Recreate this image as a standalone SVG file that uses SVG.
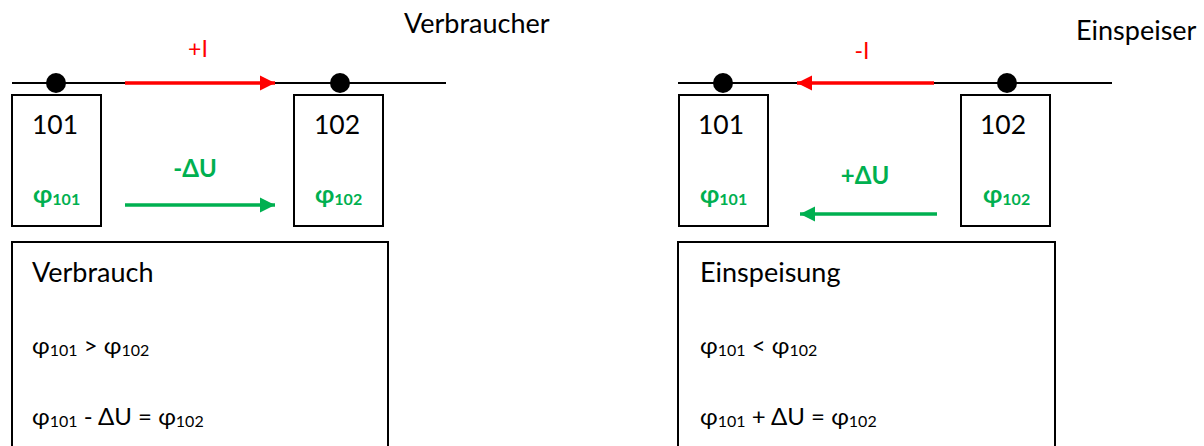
<svg xmlns="http://www.w3.org/2000/svg" width="1204" height="446" viewBox="0 0 1204 446">
<style>
text{font-family:Lato,"Noto Sans","DejaVu Sans",sans-serif;fill:#000}
.bus{stroke:#000;stroke-width:2;fill:none}
.dot{fill:#000}
.box{fill:#fff;stroke:#000;stroke-width:2}
.num{font-size:26.5px;text-anchor:middle}
.phi{font-size:25px;font-weight:bold;fill:#00B050}
.sub{font-size:16px}
.lbl{font-size:27px}
.eq{font-size:24px}
.red{stroke:#FF0000;stroke-width:3.5;fill:none}
.grn{stroke:#00B050;stroke-width:3.5;fill:none}
.rt{fill:#FF0000;font-size:23px;text-anchor:middle}
.gt{fill:#00B050;font-size:24px;font-weight:bold;text-anchor:middle}
</style>
<defs>
<marker id="ahR" markerUnits="userSpaceOnUse" markerWidth="16" markerHeight="16" viewBox="0 0 16 16" refX="15" refY="8" orient="auto"><path d="M0,0.5 L15,8 L0,15.5 Z" fill="#FF0000"/></marker>
<marker id="ahG" markerUnits="userSpaceOnUse" markerWidth="16" markerHeight="16" viewBox="0 0 16 16" refX="15" refY="8" orient="auto"><path d="M0,0.5 L15,8 L0,15.5 Z" fill="#00B050"/></marker>
</defs>

<g id="connectors">
<line class="bus" x1="12" y1="83" x2="446" y2="83"/>
<line class="bus" x1="678" y1="83" x2="1112" y2="83"/>
<line class="red" x1="125" y1="83" x2="275" y2="83" marker-end="url(#ahR)"/>
<line class="grn" x1="125" y1="205" x2="275" y2="205" marker-end="url(#ahG)"/>
<line class="red" x1="934" y1="83" x2="797" y2="83" marker-end="url(#ahR)"/>
<line class="grn" x1="937" y1="214" x2="800" y2="214" marker-end="url(#ahG)"/>
</g>

<g id="labels">
<text class="lbl" x="404" y="33">Verbraucher</text>
<text class="lbl" x="1076" y="40">Einspeiser</text>
<text class="rt" x="198" y="57">+I</text>
<text class="gt" x="195" y="177">-ΔU</text>
<text class="rt" x="862" y="59">-I</text>
<text class="gt" x="865" y="184">+ΔU</text>
</g>

<g id="node-l101">
<circle class="dot" cx="56" cy="83" r="10"/>
<rect class="box" x="12" y="95" width="89" height="131"/>
<text class="num" x="55" y="134">101</text>
<text class="phi" x="33" y="203">φ<tspan class="sub" dy="2">101</tspan></text>
</g>
<g id="node-l102">
<circle class="dot" cx="340" cy="83" r="10"/>
<rect class="box" x="294" y="95" width="89" height="131"/>
<text class="num" x="337" y="134">102</text>
<text class="phi" x="315" y="203">φ<tspan class="sub" dy="2">102</tspan></text>
</g>
<g id="node-r101">
<circle class="dot" cx="723" cy="83" r="10"/>
<rect class="box" x="679" y="95" width="89" height="131"/>
<text class="num" x="721" y="134">101</text>
<text class="phi" x="700" y="203">φ<tspan class="sub" dy="2">101</tspan></text>
</g>
<g id="node-r102">
<circle class="dot" cx="1007" cy="83" r="10"/>
<rect class="box" x="961" y="95" width="89" height="131"/>
<text class="num" x="1003" y="134">102</text>
<text class="phi" x="983" y="203">φ<tspan class="sub" dy="2">102</tspan></text>
</g>

<g id="node-verbrauch">
<rect class="box" x="12" y="242" width="376" height="230"/>
<text class="lbl" x="32" y="282">Verbrauch</text>
<text class="eq" x="32" y="354">φ<tspan class="sub" dy="2">101</tspan><tspan dy="-2"> &gt; φ</tspan><tspan class="sub" dy="2">102</tspan></text>
<text class="eq" x="32" y="425">φ<tspan class="sub" dy="2">101</tspan><tspan dy="-2"> - ΔU = φ</tspan><tspan class="sub" dy="2">102</tspan></text>
</g>
<g id="node-einspeisung">
<rect class="box" x="678" y="242" width="377" height="230"/>
<text class="lbl" x="700" y="282">Einspeisung</text>
<text class="eq" x="700" y="354">φ<tspan class="sub" dy="2">101</tspan><tspan dy="-2"> &lt; φ</tspan><tspan class="sub" dy="2">102</tspan></text>
<text class="eq" x="700" y="425">φ<tspan class="sub" dy="2">101</tspan><tspan dy="-2"> + ΔU = φ</tspan><tspan class="sub" dy="2">102</tspan></text>
</g>
</svg>
